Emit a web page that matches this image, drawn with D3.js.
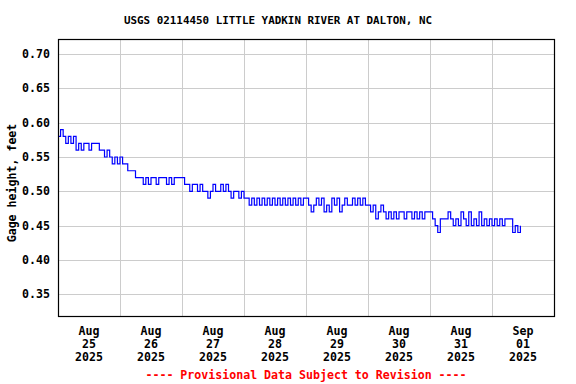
<!DOCTYPE html>
<html>
<head>
<meta charset="utf-8">
<script src="https://cdn.jsdelivr.net/npm/d3@7"></script>
<style>
  body { margin: 0; background: #fff; }
  text { font-family: "DejaVu Sans Mono", monospace; font-weight: bold; }
</style>
</head>
<body>
<div class="chart"></div>
<script>
// hourly gage height readings, feet
var aug25 = [0.58, 0.59, 0.58, 0.57, 0.58, 0.57, 0.58, 0.56, 0.57, 0.56, 0.57, 0.57,
  0.56, 0.57, 0.57, 0.57, 0.56, 0.56, 0.55, 0.56, 0.55, 0.54, 0.55, 0.54];
var aug26 = [0.55, 0.54, 0.54, 0.53, 0.53, 0.53, 0.52, 0.52, 0.52, 0.51, 0.52, 0.51,
  0.52, 0.52, 0.51, 0.52, 0.52, 0.52, 0.51, 0.52, 0.51, 0.52, 0.52, 0.52];
var aug27 = [0.52, 0.51, 0.51, 0.50, 0.51, 0.51, 0.50, 0.51, 0.50, 0.50, 0.49, 0.50,
  0.51, 0.50, 0.50, 0.51, 0.50, 0.51, 0.50, 0.49, 0.50, 0.50, 0.49, 0.50];
var aug28 = [0.49, 0.49, 0.48, 0.49, 0.48, 0.49, 0.48, 0.49, 0.48, 0.49, 0.48, 0.49,
  0.48, 0.49, 0.48, 0.49, 0.48, 0.49, 0.48, 0.49, 0.48, 0.49, 0.48, 0.49];
var aug29 = [0.49, 0.48, 0.47, 0.48, 0.49, 0.48, 0.49, 0.47, 0.48, 0.47, 0.49, 0.48,
  0.49, 0.47, 0.48, 0.49, 0.48, 0.48, 0.49, 0.48, 0.49, 0.48, 0.49, 0.48];
var aug30 = [0.48, 0.47, 0.48, 0.46, 0.47, 0.48, 0.47, 0.46, 0.47, 0.46, 0.47, 0.46,
  0.47, 0.47, 0.46, 0.47, 0.47, 0.46, 0.47, 0.46, 0.47, 0.46, 0.47, 0.47];
var aug31 = [0.47, 0.46, 0.45, 0.44, 0.46, 0.46, 0.46, 0.47, 0.46, 0.45, 0.46, 0.45,
  0.47, 0.46, 0.45, 0.47, 0.45, 0.46, 0.45, 0.47, 0.45, 0.46, 0.45, 0.46];
var sep01 = [0.45, 0.46, 0.45, 0.46, 0.45, 0.46, 0.46, 0.46, 0.44, 0.45, 0.44, 0.45];

var dayMonths = ["Aug", "Aug", "Aug", "Aug", "Aug", "Aug", "Aug", "Sep"];
var dayNumbers = ["25", "26", "27", "28", "29", "30", "31", "01"];
var dayYears = ["2025", "2025", "2025", "2025", "2025", "2025", "2025", "2025"];
var yTicks = [0.35, 0.40, 0.45, 0.50, 0.55, 0.60, 0.65, 0.70];

var title = "USGS 02114450 LITTLE YADKIN RIVER AT DALTON, NC";
var yLabel = "Gage height, feet";
var footNote = "---- Provisional Data Subject to Revision ----";

var svgWidth = 576;
var svgHeight = 384;
var margin = { top: 39, right: 22, bottom: 68, left: 58 };
var chartWidth = svgWidth - margin.left - margin.right;
var chartHeight = svgHeight - margin.top - margin.bottom;

var start = new Date(Date.UTC(2025, 7, 25));
var readings = [].concat(aug25, aug26, aug27, aug28, aug29, aug30, aug31, sep01);
var gageData = readings.map(function(v, i) {
  return { time: d3.utcHour.offset(start, i), value: v };
});

var svg = d3.select(".chart")
  .append("svg")
  .attr("width", svgWidth)
  .attr("height", svgHeight);

var chartGroup = svg.append("g")
  .attr("transform", `translate(${margin.left}, ${margin.top})`);

var xScale = d3.scaleUtc()
  .domain([start, d3.utcDay.offset(start, 8)])
  .range([0, chartWidth]);

var yScale = d3.scaleLinear()
  .domain([0.3184, 0.7219])
  .range([chartHeight, 0]);

// grid lines
chartGroup.append("g")
  .selectAll("line")
  .data(yTicks)
  .enter()
  .append("line")
  .attr("x1", 0)
  .attr("x2", chartWidth)
  .attr("y1", d => Math.round(yScale(d)) + 0.5)
  .attr("y2", d => Math.round(yScale(d)) + 0.5)
  .attr("stroke", "#cccccc")
  .attr("stroke-width", 1);

var midnights = d3.utcDay.range(d3.utcDay.offset(start, 1), d3.utcDay.offset(start, 8));
chartGroup.append("g")
  .selectAll("line")
  .data(midnights)
  .enter()
  .append("line")
  .attr("x1", d => Math.round(xScale(d)) + 0.5)
  .attr("x2", d => Math.round(xScale(d)) + 0.5)
  .attr("y1", 0)
  .attr("y2", chartHeight)
  .attr("stroke", "#cccccc")
  .attr("stroke-width", 1);

// gage line
var line = d3.line()
  .x(d => xScale(d.time))
  .y(d => yScale(d.value))
  .curve(d3.curveStepAfter);

chartGroup.append("path")
  .datum(gageData)
  .attr("d", line)
  .attr("fill", "none")
  .attr("stroke", "#0000ff")
  .attr("stroke-width", 1.2);

// frame
chartGroup.append("rect")
  .attr("x", 0.5)
  .attr("y", 0.5)
  .attr("width", chartWidth)
  .attr("height", chartHeight)
  .attr("fill", "none")
  .attr("stroke", "#000")
  .attr("stroke-width", 1.2);

// y tick labels
chartGroup.append("g")
  .selectAll("text")
  .data(yTicks)
  .enter()
  .append("text")
  .attr("x", -8)
  .attr("y", d => yScale(d))
  .attr("dy", "0.35em")
  .attr("text-anchor", "end")
  .attr("font-size", "11.6px")
  .text(d => d3.format(".2f")(d));

// x tick labels at noon
var noons = d3.range(8).map(i => d3.utcHour.offset(d3.utcDay.offset(start, i), 12));
var xLabels = chartGroup.append("g")
  .selectAll("text")
  .data(noons)
  .enter()
  .append("text")
  .attr("text-anchor", "middle")
  .attr("font-size", "11.6px");

xLabels.append("tspan")
  .attr("x", d => xScale(d))
  .attr("y", chartHeight + 19)
  .text((d, i) => dayMonths[i]);
xLabels.append("tspan")
  .attr("x", d => xScale(d))
  .attr("y", chartHeight + 32)
  .text((d, i) => dayNumbers[i]);
xLabels.append("tspan")
  .attr("x", d => xScale(d))
  .attr("y", chartHeight + 45)
  .text((d, i) => dayYears[i]);

svg.append("text")
  .attr("x", 278)
  .attr("y", 24)
  .attr("text-anchor", "middle")
  .attr("font-size", "10.9px")
  .text(title);

svg.append("text")
  .attr("transform", "translate(16, 183) rotate(-90)")
  .attr("text-anchor", "middle")
  .attr("font-size", "11.6px")
  .text(yLabel);

svg.append("text")
  .attr("x", margin.left + chartWidth / 2)
  .attr("y", 379)
  .attr("text-anchor", "middle")
  .attr("font-size", "11.6px")
  .attr("fill", "#ff0000")
  .text(footNote);
</script>
</body>
</html>
